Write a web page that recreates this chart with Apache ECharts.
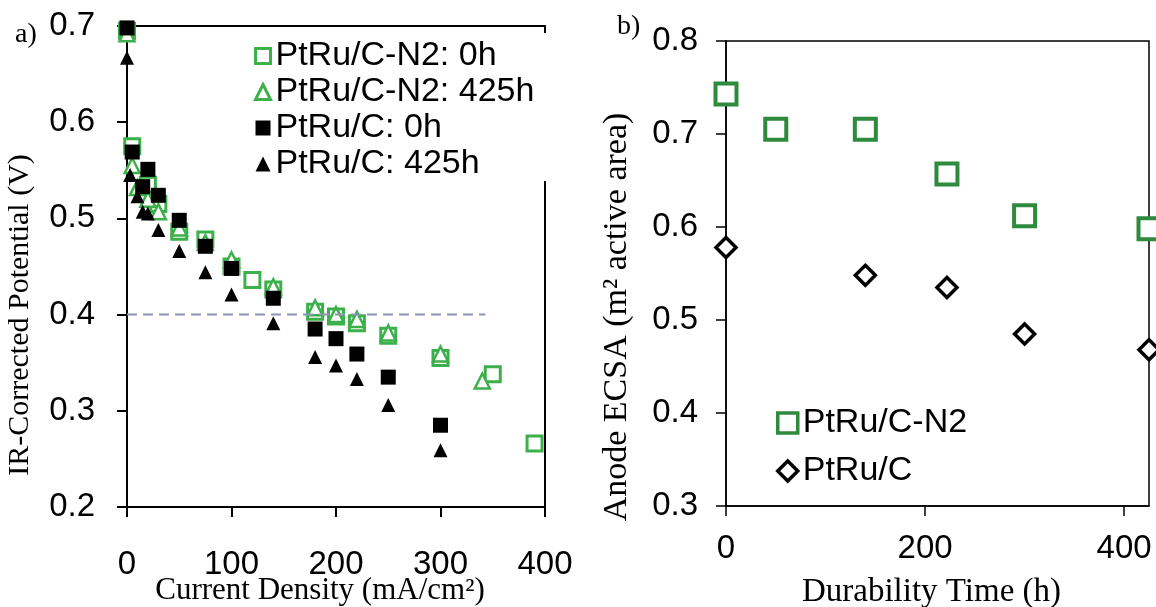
<!DOCTYPE html>
<html><head><meta charset="utf-8">
<script src="https://cdn.jsdelivr.net/npm/echarts@6/dist/echarts.min.js"></script>
<style>html,body{margin:0;padding:0;background:#fff}#c{width:1156px;height:607px}</style>
</head><body><div id="c"></div>
<script>
// ---- Panel a) polarization data: [current density mA/cm2, potential V]
const n2_0h = [[0,0.695],[5,0.575],[20,0.535],[30,0.515],[50,0.486],[75,0.478],[100,0.45],[120,0.436],[140,0.426],[180,0.403],[200,0.398],[220,0.391],[250,0.378],[300,0.355],[350,0.338],[390,0.266]];
const n2_425h = [[0,0.692],[5,0.555],[10,0.532],[20,0.52],[30,0.507],[50,0.49],[75,0.475],[100,0.457],[140,0.429],[180,0.407],[200,0.4],[220,0.395],[250,0.381],[300,0.359],[340,0.331]];
const c_0h = [[0,0.698],[5,0.569],[15,0.533],[20,0.551],[30,0.524],[50,0.498],[75,0.471],[100,0.448],[140,0.417],[180,0.385],[200,0.375],[220,0.359],[250,0.335],[300,0.285]];
const c_425h = [[0,0.667],[3,0.545],[10,0.523],[15,0.507],[20,0.505],[30,0.488],[50,0.466],[75,0.444],[100,0.421],[140,0.391],[180,0.356],[200,0.347],[220,0.333],[250,0.306],[300,0.259]];
const refLevel = 0.4;
const refRange = [0, 343];
const aXTicks = [0,100,200,300,400];
const aYTicks = [0.2,0.3,0.4,0.5,0.6,0.7];
const aNames = ['PtRu/C-N2: 0h','PtRu/C-N2: 425h','PtRu/C: 0h','PtRu/C: 425h'];

// ---- Panel b) ECSA data: durability time h
const bTime = [0,50,140,222,300,425];
const bN2 = [0.743,0.705,0.705,0.657,0.612,0.598];
const bCTime = [0,140,222,300,425];
const bC = [0.578,0.548,0.535,0.485,0.468];
const bXTicks = [0,200,400];
const bYTicks = [0.3,0.4,0.5,0.6,0.7,0.8];
const bNames = ['PtRu/C-N2','PtRu/C'];

const GL = '#3cb04a', GD = '#2e8a3c', K = '#000';
const SANS = 'Liberation Sans', SERIF = 'Liberation Serif';

const chart = echarts.init(document.getElementById('c'), null, {renderer:'canvas'});

function axisCommon(w){
  return {
    axisLine:{show:true, onZero:false, lineStyle:{color:K, width:w}},
    splitLine:{show:false},
    nameMoveOverlap:false
  };
}

const option = {
  animation:false,
  backgroundColor:'#fff',
  title:[
    {text:'a)', left:10, top:16, textStyle:{fontFamily:SERIF, fontSize:28, fontWeight:'normal', color:K}},
    {text:'b)', left:612, top:8, textStyle:{fontFamily:SERIF, fontSize:28, fontWeight:'normal', color:K}}
  ],
  grid:[
    {left:127, top:26, width:418, height:481, show:true, borderColor:K, borderWidth:2, backgroundColor:'transparent', containLabel:false, outerBoundsMode:'none'},
    {left:726, top:41, width:423, height:465, show:true, borderColor:K, borderWidth:1.5, backgroundColor:'transparent', containLabel:false, outerBoundsMode:'none'}
  ],
  legend:[
    {
      orient:'vertical', left:248, top:33, padding:[6,12,0,6], itemGap:2,
      itemWidth:15, itemHeight:15, backgroundColor:'#fff', z:10,
      textStyle:{fontFamily:SANS, fontSize:34, lineHeight:30, color:K},
      data:[
        {name:aNames[0], icon:'rect', itemStyle:{color:'#fff', borderColor:GL, borderWidth:3, opacity:1}},
        {name:aNames[1], icon:'triangle', itemStyle:{color:'#fff', borderColor:GL, borderWidth:3, opacity:1}},
        {name:aNames[2], icon:'rect', itemStyle:{color:K, borderWidth:0, opacity:1}},
        {name:aNames[3], icon:'triangle', itemStyle:{color:K, borderWidth:0, opacity:1}}
      ]
    },
    {
      orient:'vertical', left:776, top:405, padding:0, itemGap:12,
      itemWidth:20, itemHeight:20,
      textStyle:{fontFamily:SANS, fontSize:34, lineHeight:36, color:K},
      data:[
        {name:bNames[0], icon:'rect', itemStyle:{color:'#fff', borderColor:GD, borderWidth:3.5, opacity:1}},
        {name:bNames[1], icon:'diamond', itemStyle:{color:'#fff', borderColor:K, borderWidth:3.5, opacity:1}}
      ]
    }
  ],
  xAxis:[
    Object.assign(axisCommon(2), {
      gridIndex:0, type:'value', min:aXTicks[0], max:aXTicks[aXTicks.length-1],
      axisTick:{show:true, inside:false, length:10, lineStyle:{color:K, width:2}, customValues:aXTicks},
      axisLabel:{customValues:aXTicks, fontFamily:SANS, fontSize:33, color:K, margin:41},
      name:'Current Density (mA/cm²)', nameLocation:'middle', nameGap:68,
      nameTextStyle:{fontFamily:SERIF, fontSize:31, color:K, padding:[0,32,0,0]}
    }),
    Object.assign(axisCommon(1.5), {
      gridIndex:1, type:'value', min:0, max:425,
      axisTick:{show:true, inside:false, length:10, lineStyle:{color:K, width:1.5}, customValues:bXTicks},
      axisLabel:{customValues:bXTicks, fontFamily:SANS, fontSize:33, color:K, margin:26},
      name:'Durability Time (h)', nameLocation:'middle', nameGap:70,
      nameTextStyle:{fontFamily:SERIF, fontSize:33, color:K, padding:[0,12,0,0]}
    })
  ],
  yAxis:[
    Object.assign(axisCommon(2), {
      gridIndex:0, type:'value', min:aYTicks[0], max:aYTicks[aYTicks.length-1],
      axisTick:{show:true, inside:false, length:10, lineStyle:{color:K, width:2}, customValues:aYTicks},
      axisLabel:{customValues:aYTicks, fontFamily:SANS, fontSize:33, color:K, margin:32, formatter:v=>v.toFixed(1)},
      name:'IR-Corrected Potential (V)', nameLocation:'middle', nameGap:92,
      nameTextStyle:{fontFamily:SERIF, fontSize:30, color:K, padding:[0,97,0,0]}
    }),
    Object.assign(axisCommon(1.5), {
      gridIndex:1, type:'value', min:bYTicks[0], max:bYTicks[bYTicks.length-1],
      axisTick:{show:true, inside:false, length:10, lineStyle:{color:K, width:1.5}, customValues:bYTicks},
      axisLabel:{customValues:bYTicks, fontFamily:SANS, fontSize:33, color:K, margin:28, formatter:v=>v.toFixed(1)},
      name:'Anode ECSA (m² active area)', nameLocation:'middle', nameGap:92,
      nameTextStyle:{fontFamily:SERIF, fontSize:34, color:K, padding:[0,87,0,0]}
    })
  ],
  series:[
    {type:'line', name:'ref', xAxisIndex:0, yAxisIndex:0, symbol:'none', silent:true,
     data:refRange.map(x=>[x,refLevel]), lineStyle:{color:'#8c95b8', width:2, type:[10,6]}},
    {type:'scatter', name:aNames[0], xAxisIndex:0, yAxisIndex:0, data:n2_0h, symbol:'rect', symbolSize:15,
     itemStyle:{color:'#fff', borderColor:GL, borderWidth:3, opacity:1}},
    {type:'scatter', name:aNames[1], xAxisIndex:0, yAxisIndex:0, data:n2_425h, symbol:'triangle', symbolSize:15,
     itemStyle:{color:'#fff', borderColor:GL, borderWidth:2.5, opacity:1}},
    {type:'scatter', name:aNames[2], xAxisIndex:0, yAxisIndex:0, data:c_0h, symbol:'rect', symbolSize:15,
     itemStyle:{color:K, opacity:1}},
    {type:'scatter', name:aNames[3], xAxisIndex:0, yAxisIndex:0, data:c_425h, symbol:'triangle', symbolSize:14,
     itemStyle:{color:K, opacity:1}},
    {type:'scatter', name:bNames[0], xAxisIndex:1, yAxisIndex:1, data:bTime.map((t,i)=>[t,bN2[i]]), symbol:'rect', symbolSize:21,
     itemStyle:{color:'#fff', borderColor:GD, borderWidth:4, opacity:1}},
    {type:'scatter', name:bNames[1], xAxisIndex:1, yAxisIndex:1, data:bCTime.map((t,i)=>[t,bC[i]]), symbol:'diamond', symbolSize:20,
     itemStyle:{color:'#fff', borderColor:K, borderWidth:3.5, opacity:1}}
  ]
};
chart.setOption(option);
</script>
</body></html>
